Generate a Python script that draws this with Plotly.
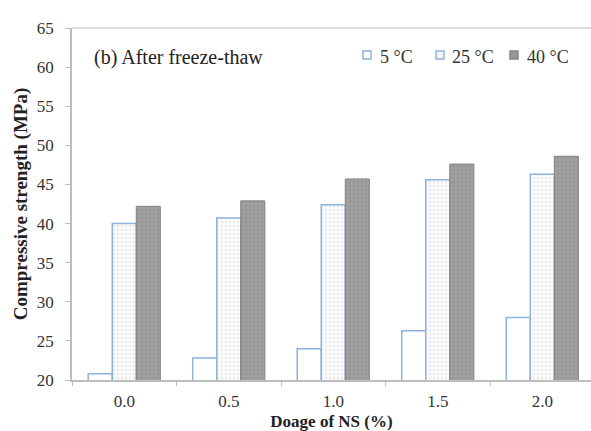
import plotly.graph_objects as go

categories = ["0.0", "0.5", "1.0", "1.5", "2.0"]
series_names = ["5 °C", "25 °C", "40 °C"]
vals_5 = [20.8, 22.8, 24.0, 26.3, 28.0]
vals_25 = [40.0, 40.7, 42.4, 45.6, 46.3]
vals_40 = [42.2, 42.9, 45.7, 47.6, 48.6]
y_ticks = [20, 25, 30, 35, 40, 45, 50, 55, 60, 65]

FONT = "Liberation Serif, Times New Roman, serif"
BLUE = "#8fb1de"
W, H = 591, 431
ML, MR, MT, MB = 72, 0, 28, 51
plot_w = W - ML - MR
plot_h = H - MT - MB

fig = go.Figure()
fig.add_trace(go.Bar(
    x=categories, y=vals_5, name=series_names[0], showlegend=False,
    marker=dict(color="white", line=dict(color=BLUE, width=1.5)),
))
fig.add_trace(go.Bar(
    x=categories, y=vals_25, name=series_names[1], showlegend=False,
    marker=dict(color="white", line=dict(color=BLUE, width=1.5),
                pattern=dict(shape=".", fgcolor="#d4d4d4", bgcolor="#fbfbfb", size=4, solidity=0.25)),
))
fig.add_trace(go.Bar(
    x=categories, y=vals_40, name=series_names[2], showlegend=False,
    marker=dict(color="#979797", line=dict(color="#808080", width=1),
                pattern=dict(shape=".", fgcolor="#858585", bgcolor="#a0a0a0", size=4, solidity=0.3)),
))

def px_x(px):
    return (px - ML) / plot_w

def px_y(py):
    return 1 - (py - MT) / plot_h

# manual legend (key squares + labels)
legend_keys = [
    dict(fill="white", line=BLUE, x=367, tx=378),
    dict(fill="#f4f4f4", line=BLUE, x=440, tx=450),
    dict(fill="#979797", line="#858585", x=514, tx=525),
]
shapes = [dict(type="line", xref="paper", yref="paper", x0=0, x1=1, y0=1, y1=1,
               line=dict(color="#d0d0d0", width=1.5))]
annotations = [dict(text="(b) After freeze-thaw", xref="paper", yref="paper",
                    x=px_x(92), y=px_y(58), xanchor="left", yanchor="middle", showarrow=False,
                    font=dict(family=FONT, size=20, color="#222222"))]
for name, k in zip(series_names, legend_keys):
    shapes.append(dict(type="rect", xref="paper", yref="paper",
                       x0=px_x(k["x"] - 4), x1=px_x(k["x"] + 4),
                       y0=px_y(55 + 4), y1=px_y(55 - 4),
                       fillcolor=k["fill"], line=dict(color=k["line"], width=1.5)))
    annotations.append(dict(text=name, xref="paper", yref="paper",
                            x=px_x(k["tx"]), y=px_y(57), xanchor="left", yanchor="middle",
                            showarrow=False, font=dict(family=FONT, size=18, color="#333333")))

fig.update_layout(
    width=W, height=H,
    margin=dict(l=ML, r=MR, t=MT, b=MB),
    paper_bgcolor="white", plot_bgcolor="white",
    barmode="group", bargap=0.31, bargroupgap=0,
    font=dict(family=FONT, color="#333333", size=17),
    showlegend=False,
    xaxis=dict(
        type="category", range=[-0.5, 4.466],
        showline=True, linecolor="#bdbdbd", linewidth=1.5,
        ticks="outside", tickson="boundaries", ticklen=4, tickcolor="#bdbdbd",
        tickfont=dict(family=FONT, size=17, color="#333333"),
        ticklabelstandoff=5,
        title=dict(text="<b>Doage of NS (%)</b>", font=dict(family=FONT, size=17, color="#222222"), standoff=5),
        showgrid=False, zeroline=False,
    ),
    yaxis=dict(
        range=[20, 65], tickvals=y_ticks,
        showline=True, linecolor="#bdbdbd", linewidth=1.5,
        ticks="outside", ticklen=5, tickcolor="#bdbdbd",
        tickfont=dict(family=FONT, size=17, color="#333333"),
        ticklabelstandoff=8,
        title=dict(text="<b>Compressive strength (MPa)</b>", font=dict(family=FONT, size=19, color="#222222"), standoff=4),
        showgrid=False, zeroline=False,
    ),
    shapes=shapes,
    annotations=annotations,
)

fig.write_html("out.html")
